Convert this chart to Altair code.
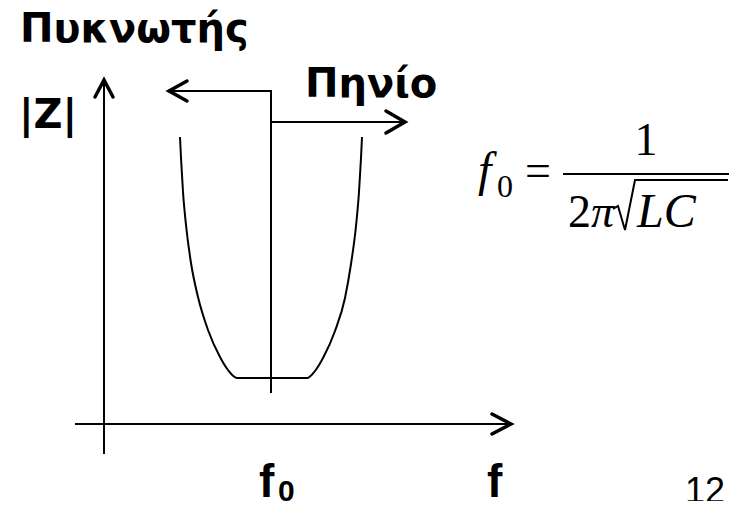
import altair as alt
import pandas as pd

# Diagram coordinates (page pixel space: x to the right, y downward)
# Thin strokes (axes, resonance marker, arrows' shafts)
thin_paths = {
    "y_axis": [(104, 454), (104, 80)],
    "x_axis": [(75, 424), (510, 424)],
    "f0_left": [(271, 393), (271, 91), (170, 91)],
    "f0_right": [(271, 122), (403, 122)],
    "frac_bar": [(563, 174), (729, 174)],
}
# Arrow heads (open chevrons, thicker)
head_paths = {
    "y_head": [(95, 97), (104, 80), (113, 97)],
    "l_head": [(187, 81), (169, 91), (187, 101)],
    "r_head": [(386, 111), (405, 122), (386, 133)],
    "x_head": [(492, 414), (511, 424), (492, 434)],
}
# Radical sign of sqrt(LC)
radical_x = [613, 618, 625, 635, 728]
radical_y = [209, 206, 230, 180, 180]

# |Z| curve vs frequency (U shape with flat bottom at f0)
curve_x = [180, 181, 183, 186, 191, 198, 208, 220, 228, 237,
           307, 315, 323, 335, 345, 351, 356, 359, 361, 362]
curve_y = [137, 158, 192, 225, 263, 297, 330, 357, 370, 378,
           378, 371, 358, 331, 298, 264, 226, 192, 158, 137]

# Labels
label_text = ["Πυκνωτής", "|Z|", "Πηνίο"]
label_x = [20, 19, 305]
label_y = [42, 128, 97]

sans_bold_text = ["f", "0", "f"]
sans_bold_x = [259, 278, 487]
sans_bold_y = [497, 501, 497]
sans_bold_size = [46, 30, 46]

page_num = ["12"]
page_x = [685]
page_y = [503]


def paths_df(paths):
    rows = []
    for name, pts in paths.items():
        for i, (x, y) in enumerate(pts):
            rows.append({"g": name, "i": i, "x": x, "y": y})
    return pd.DataFrame(rows)


X = alt.Scale(domain=[8, 734], nice=False, zero=False)
Y = alt.Scale(domain=[501, 8], nice=False, zero=False)


def xenc():
    return alt.X("x:Q", scale=X, axis=None)


def yenc():
    return alt.Y("y:Q", scale=Y, axis=None)


thin = alt.Chart(paths_df(thin_paths)).mark_line(
    color="black", strokeWidth=2, strokeCap="butt"
).encode(x=xenc(), y=yenc(), detail="g:N", order="i:Q")

heads = alt.Chart(paths_df(head_paths)).mark_line(
    color="black", strokeWidth=3.5, strokeCap="round", strokeJoin="miter"
).encode(x=xenc(), y=yenc(), detail="g:N", order="i:Q")

rad = alt.Chart(pd.DataFrame({"x": radical_x, "y": radical_y,
                              "i": list(range(len(radical_x)))})).mark_line(
    color="black", strokeWidth=2, strokeJoin="miter"
).encode(x=xenc(), y=yenc(), order="i:Q")

curve = alt.Chart(pd.DataFrame({"x": curve_x, "y": curve_y,
                                "i": list(range(len(curve_x)))})).mark_line(
    color="black", strokeWidth=2, interpolate="monotone"
).encode(x=xenc(), y=yenc(), order="i:Q")

labels = alt.Chart(pd.DataFrame({"t": label_text, "x": label_x, "y": label_y})).mark_text(
    font="DejaVu Sans", fontWeight="bold", fontSize=40, align="left",
    baseline="alphabetic", color="black"
).encode(x=xenc(), y=yenc(), text="t:N")

fl = alt.Chart(pd.DataFrame({"t": sans_bold_text, "x": sans_bold_x,
                             "y": sans_bold_y, "s": sans_bold_size})).mark_text(
    font="Liberation Sans", fontWeight="bold", align="left",
    baseline="alphabetic", color="black"
).encode(x=xenc(), y=yenc(), text="t:N",
         size=alt.Size("s:Q", scale=None, legend=None))

pg = alt.Chart(pd.DataFrame({"t": page_num, "x": page_x, "y": page_y})).mark_text(
    font="Liberation Sans", fontSize=36, align="left",
    baseline="alphabetic", color="black"
).encode(x=xenc(), y=yenc(), text="t:N")

# Formula pieces
formula_text = ["f", "0", "=", "1", "2", "π", "LC"]
formula_x = [478, 497, 525, 646, 568, 591, 637]
formula_y = [186, 197, 186, 155, 227, 227, 227]
formula_size = [48, 32, 46, 46, 46, 46, 48]
formula_style = ["italic", "normal", "normal", "normal", "normal", "italic", "italic"]
formula_align = ["left", "left", "left", "center", "left", "left", "left"]

fdf = pd.DataFrame({"t": formula_text, "x": formula_x, "y": formula_y,
                    "s": formula_size, "st": formula_style, "al": formula_align})

formula_layers = []
for st in ["italic", "normal"]:
    for al in ["left", "center"]:
        sub = fdf[(fdf.st == st) & (fdf.al == al)]
        if len(sub) == 0:
            continue
        formula_layers.append(
            alt.Chart(sub).mark_text(
                font="Liberation Serif", fontStyle=st, align=al,
                baseline="alphabetic", color="black"
            ).encode(x=xenc(), y=yenc(), text="t:N",
                     size=alt.Size("s:Q", scale=None, legend=None))
        )

chart = alt.layer(thin, heads, rad, curve, labels, fl, pg, *formula_layers).properties(
    width=726, height=493, padding=0, autosize=alt.AutoSizeParams(type="none"),
    background="white"
).configure_view(stroke=None)

chart.save("out.html", embed_options={"renderer": "svg", "actions": False})
